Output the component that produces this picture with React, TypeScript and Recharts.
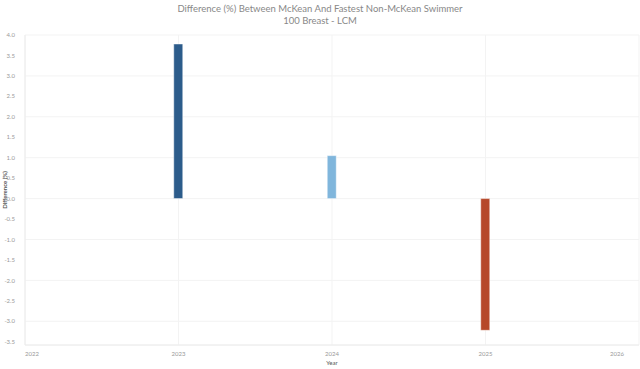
import { BarChart, Bar, Cell, XAxis, YAxis, CartesianGrid } from 'recharts';

const years = [2023, 2024, 2025];
const diffs = [3.78, 1.05, -3.22];
const xTicks = [2022, 2023, 2024, 2025, 2026];
const yTicks = [-3.5, -3, -2.5, -2, -1.5, -1, -0.5, 0, 0.5, 1, 1.5, 2, 2.5, 3, 3.5, 4];

const barColors = ['#2c5c8b', '#80b6dc', '#b6482a'];

const data = years.map((year, i) => ({ year, value: diffs[i] }));

const font = 'Lato, "Open Sans", sans-serif';

const XTick = ({ x, y, payload }: any) => {
  const v = payload.value;
  const anchor = v === xTicks[0] ? 'start' : v === xTicks[xTicks.length - 1] ? 'end' : 'middle';
  return (
    <text x={x} y={y + 3} textAnchor={anchor} fill="#999" fontSize={6} fontFamily={font}>
      {v}
    </text>
  );
};

export default function App() {
  return (
    <div style={{ position: 'fixed', left: 0, top: 0, width: 640, height: 369, background: '#fff' }}>
      <div style={{ position: 'absolute', top: 3, left: 0, width: 640, textAlign: 'center', color: '#888', fontFamily: font, fontSize: 9.5, lineHeight: '12px' }}>
        <div>Difference (%) Between McKean And Fastest Non-McKean Swimmer</div>
        <div>100 Breast - LCM</div>
      </div>
      <BarChart width={640} height={369} data={data} margin={{ top: 35, right: 1, left: 0, bottom: 0 }}>
        <CartesianGrid stroke="#f3f3f3" />
        <XAxis
          dataKey="year"
          type="number"
          domain={[2022, 2026]}
          ticks={xTicks}
          tick={<XTick />}
          tickLine={false}
          height={24}
          axisLine={{ stroke: '#ececec' }}
          label={{ value: 'Year', position: 'insideBottom', offset: 4, fill: '#555', fontSize: 6, fontFamily: font }}
        />
        <YAxis
          type="number"
          domain={[-3.58, 4]}
          ticks={yTicks}
          width={25}
          tickFormatter={(v: number) => v.toFixed(1)}
          tick={{ fill: '#999', fontSize: 6, fontFamily: font }}
          tickLine={false}
          tickMargin={4}
          axisLine={{ stroke: '#ececec' }}
          label={{ value: 'Difference (%)', angle: -90, position: 'insideLeft', offset: 5, fill: '#555', fontSize: 6, fontWeight: 'bold', fontFamily: font, style: { textAnchor: 'middle' } }}
        />
        <Bar dataKey="value" barSize={9} isAnimationActive={false}>
          {data.map((d, i) => (
            <Cell key={`cell-${d.year}`} fill={barColors[i]} stroke="rgba(255,255,255,0.45)" strokeWidth={1} />
          ))}
        </Bar>
      </BarChart>
    </div>
  );
}
